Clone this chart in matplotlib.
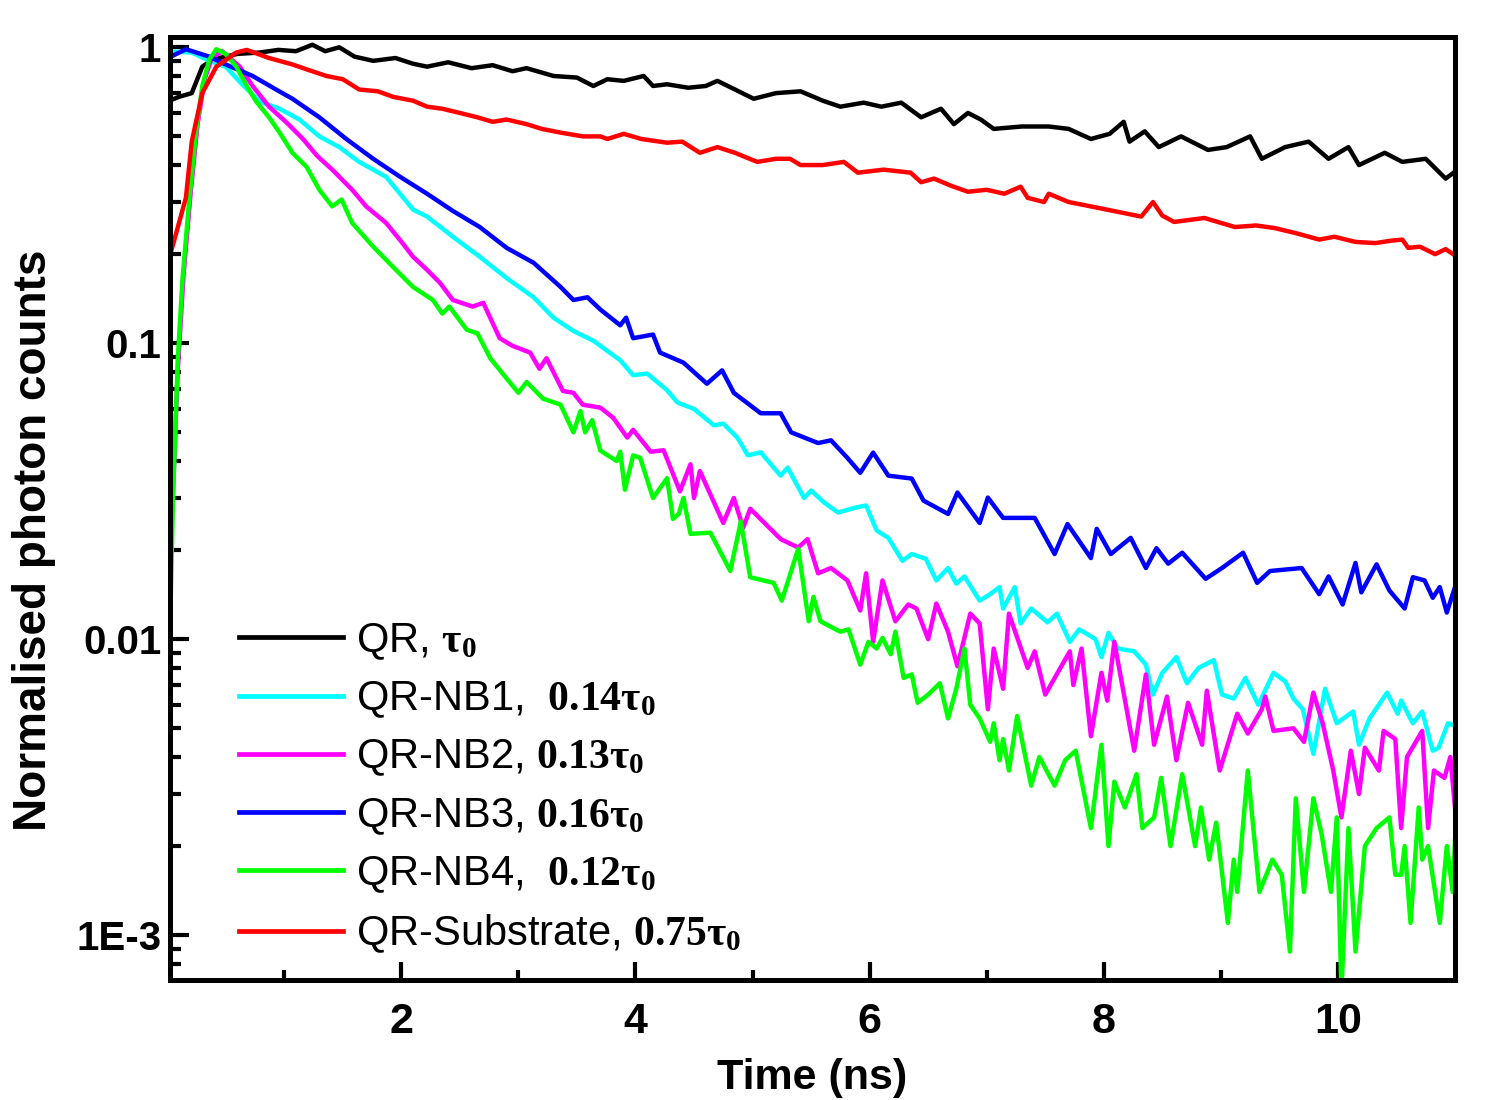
import matplotlib
matplotlib.use("Agg")
import matplotlib.pyplot as plt
from matplotlib.ticker import FixedLocator, LogLocator, NullFormatter

plt.rcParams['font.family'] = ['Liberation Sans', 'DejaVu Sans']
plt.rcParams['mathtext.fontset'] = 'custom'
plt.rcParams['mathtext.rm'] = 'Liberation Serif'
plt.rcParams['mathtext.bf'] = 'Liberation Serif:bold'
plt.rcParams['mathtext.it'] = 'Liberation Serif:italic'

# ---------------- data ----------------
t_qr = [0.02, 0.1, 0.21, 0.30, 0.39, 0.5, 0.6, 0.79, 0.95, 1.1, 1.24, 1.35, 1.47, 1.6, 1.76,
        1.95, 2.1, 2.22, 2.4, 2.6, 2.78, 2.95, 3.07, 3.3, 3.5, 3.64, 3.76, 3.9, 4.07, 4.15,
        4.27, 4.45, 4.6, 4.70, 4.85, 5.01, 5.2, 5.41, 5.6, 5.75, 5.95, 6.1, 6.27, 6.44, 6.61,
        6.72, 6.84, 6.95, 7.06, 7.3, 7.53, 7.7, 7.89, 8.05, 8.17, 8.22, 8.35, 8.47, 8.66, 8.89,
        9.05, 9.25, 9.35, 9.55, 9.75, 9.92, 10.09, 10.18, 10.40, 10.55, 10.75, 10.92, 11.0]
y_qr = [0.66, 0.68, 0.70, 0.86, 0.91, 0.93, 0.95, 0.96, 0.98, 0.97, 1.02, 0.97, 1.00, 0.93, 0.90,
        0.92, 0.88, 0.86, 0.89, 0.85, 0.87, 0.83, 0.85, 0.80, 0.79, 0.74, 0.78, 0.77, 0.80, 0.74,
        0.75, 0.73, 0.74, 0.77, 0.72, 0.67, 0.70, 0.71, 0.66, 0.63, 0.65, 0.63, 0.65, 0.58, 0.62,
        0.55, 0.60, 0.57, 0.53, 0.54, 0.54, 0.53, 0.49, 0.51, 0.56, 0.48, 0.52, 0.46, 0.50, 0.45,
        0.46, 0.50, 0.42, 0.46, 0.48, 0.42, 0.46, 0.40, 0.44, 0.41, 0.42, 0.36, 0.38]

t_nb1 = [0.02, 0.21, 0.36, 0.5, 0.64, 0.79, 0.96, 1.13, 1.30, 1.47, 1.64, 1.87, 2.1, 2.22, 2.44,
         2.67, 2.90, 3.13, 3.30, 3.47, 3.64, 3.87, 3.98, 4.10, 4.27, 4.36, 4.50, 4.67, 4.75, 4.87,
         4.96, 5.07, 5.24, 5.30, 5.44, 5.50, 5.61, 5.73, 5.89, 5.97, 6.06, 6.16, 6.28, 6.36, 6.48,
         6.57, 6.67, 6.74, 6.81, 6.94, 7.03, 7.11, 7.14, 7.24, 7.29, 7.38, 7.52, 7.60, 7.71, 7.79,
         7.93, 7.98, 8.04, 8.12, 8.26, 8.36, 8.42, 8.50, 8.62, 8.71, 8.81, 8.94, 9.01, 9.11, 9.21,
         9.32, 9.45, 9.55, 9.62, 9.70, 9.79, 9.89, 9.99, 10.13, 10.18, 10.27, 10.42, 10.51, 10.54,
         10.64, 10.72, 10.81, 10.86, 10.94, 11.0]
y_nb1 = [0.97, 0.96, 0.90, 0.86, 0.75, 0.656, 0.62, 0.57, 0.50, 0.46, 0.41, 0.365, 0.283, 0.268, 0.229,
         0.196, 0.166, 0.143, 0.122, 0.11, 0.102, 0.0876, 0.078, 0.079, 0.0694, 0.063, 0.06, 0.0528, 0.0535, 0.048,
         0.0418, 0.0428, 0.0357, 0.038, 0.030, 0.0318, 0.029, 0.0268, 0.0279, 0.0283, 0.0233, 0.022, 0.0184, 0.0194, 0.0187,
         0.0158, 0.0174, 0.0154, 0.0163, 0.0135, 0.0142, 0.015, 0.0127, 0.015, 0.0113, 0.0127, 0.0114, 0.0122, 0.0098, 0.0108,
         0.010, 0.0087, 0.0105, 0.0093, 0.0091, 0.0082, 0.0065, 0.0077, 0.0087, 0.0071, 0.008, 0.0085, 0.0065, 0.0063, 0.0074,
         0.006, 0.0077, 0.0072, 0.0063, 0.0058, 0.0041, 0.0068, 0.0052, 0.0057, 0.0044, 0.0054, 0.0066, 0.0056, 0.0062,
         0.0052, 0.0057, 0.0042, 0.0043, 0.0052, 0.0051]

t_nb2 = [0.03, 0.09, 0.14, 0.2, 0.26, 0.32, 0.38, 0.47, 0.62, 0.73, 0.87, 1.02, 1.16, 1.28, 1.41,
         1.58, 1.70, 1.87, 1.99, 2.1, 2.22, 2.33, 2.44, 2.61, 2.70, 2.84, 2.95, 3.10, 3.18, 3.24,
         3.38, 3.47, 3.55, 3.70, 3.81, 3.93, 3.98, 4.13, 4.24, 4.38, 4.47, 4.50, 4.55, 4.75, 4.84,
         4.92, 4.98, 5.24, 5.39, 5.47, 5.56, 5.67, 5.81, 5.92, 5.97, 6.03, 6.11, 6.22, 6.33, 6.40,
         6.50, 6.57, 6.67, 6.75, 6.86, 6.94, 7.01, 7.06, 7.14, 7.19, 7.35, 7.41, 7.50, 7.71, 7.74,
         7.81, 7.89, 7.98, 8.03, 8.09, 8.26, 8.36, 8.43, 8.54, 8.62, 8.72, 8.84, 8.88, 8.99, 9.14,
         9.23, 9.35, 9.38, 9.45, 9.62, 9.71, 9.79, 9.87, 9.96, 10.03, 10.11, 10.18, 10.23, 10.35,
         10.39, 10.49, 10.54, 10.59, 10.72, 10.77, 10.82, 10.91, 10.96, 11.0]
y_nb2 = [0.02, 0.08, 0.17, 0.32, 0.55, 0.78, 0.92, 0.97, 0.86, 0.74, 0.63, 0.557, 0.49, 0.43, 0.386,
         0.33, 0.29, 0.255, 0.223, 0.196, 0.177, 0.16, 0.14, 0.133, 0.137, 0.104, 0.098, 0.093, 0.082, 0.089,
         0.069, 0.068, 0.062, 0.0606, 0.056, 0.048, 0.051, 0.043, 0.0435, 0.0316, 0.039, 0.030, 0.037, 0.0247, 0.030,
         0.0238, 0.0276, 0.0218, 0.0204, 0.0218, 0.0167, 0.0174, 0.0158, 0.0125, 0.0167, 0.0098, 0.0158, 0.0115, 0.0131, 0.0127,
         0.010, 0.0132, 0.0106, 0.0081, 0.0122, 0.0113, 0.0058, 0.0093, 0.0068, 0.0122, 0.0080, 0.0091, 0.0065, 0.0091, 0.0070,
         0.0093, 0.0047, 0.0077, 0.0062, 0.0098, 0.0042, 0.0076, 0.0044, 0.0064, 0.0039, 0.0061, 0.0044, 0.0067, 0.0036, 0.0056,
         0.0048, 0.0058, 0.0064, 0.0049, 0.0050, 0.0045, 0.0066, 0.0052, 0.0036, 0.0025, 0.0042, 0.0030, 0.0043, 0.0036,
         0.0049, 0.0046, 0.0023, 0.0040, 0.0049, 0.0023, 0.0036, 0.0034, 0.0040, 0.0027]

t_nb3 = [0.02, 0.16, 0.36, 0.5, 0.73, 0.93, 1.07, 1.30, 1.53, 1.76, 1.99, 2.22, 2.44, 2.67, 2.90,
         3.13, 3.36, 3.47, 3.59, 3.70, 3.87, 3.92, 3.98, 4.15, 4.21, 4.41, 4.61, 4.74, 4.84, 5.07,
         5.24, 5.33, 5.56, 5.67, 5.81, 5.92, 6.03, 6.16, 6.36, 6.46, 6.67, 6.75, 6.94, 7.01, 7.14,
         7.41, 7.58, 7.69, 7.89, 7.94, 8.06, 8.23, 8.36, 8.45, 8.55, 8.67, 8.87, 9.01, 9.19, 9.31,
         9.42, 9.69, 9.84, 9.92, 10.04, 10.15, 10.2, 10.33, 10.44, 10.57, 10.64, 10.74, 10.81, 10.87,
         10.93, 11.0]
y_nb3 = [0.925, 0.985, 0.93, 0.875, 0.80, 0.72, 0.67, 0.58, 0.49, 0.42, 0.365, 0.32, 0.28, 0.247, 0.21,
         0.187, 0.155, 0.14, 0.143, 0.13, 0.115, 0.122, 0.104, 0.107, 0.093, 0.086, 0.073, 0.081, 0.068, 0.058,
         0.058, 0.050, 0.046, 0.047, 0.041, 0.0365, 0.0427, 0.0357, 0.0349, 0.0294, 0.0265, 0.0313, 0.0247, 0.0301, 0.0257,
         0.0257, 0.0194, 0.0245, 0.0188, 0.0236, 0.0194, 0.022, 0.0174, 0.0203, 0.018, 0.0196, 0.016, 0.0174, 0.0196, 0.0155,
         0.017, 0.0174, 0.0142, 0.0163, 0.0131, 0.0181, 0.0144, 0.0179, 0.0146, 0.0127, 0.0162, 0.0158, 0.0138, 0.015,
         0.0123, 0.015]

t_nb4 = [0.02, 0.05, 0.09, 0.13, 0.19, 0.25, 0.30, 0.36, 0.42, 0.50, 0.59, 0.68, 0.76, 0.87, 0.96,
         1.07, 1.19, 1.30, 1.41, 1.49, 1.58, 1.76, 1.93, 2.10, 2.27, 2.35, 2.41, 2.56, 2.65, 2.76,
         2.90, 3.00, 3.07, 3.21, 3.36, 3.47, 3.53, 3.57, 3.63, 3.70, 3.84, 3.87, 3.91, 3.98, 4.04,
         4.15, 4.27, 4.32, 4.37, 4.41, 4.47, 4.64, 4.81, 4.90, 4.98, 5.18, 5.25, 5.39, 5.48, 5.52,
         5.58, 5.69, 5.75, 5.82, 5.92, 5.99, 6.06, 6.11, 6.18, 6.22, 6.29, 6.36, 6.41, 6.50, 6.60,
         6.67, 6.74, 6.81, 6.86, 6.94, 7.03, 7.06, 7.11, 7.14, 7.19, 7.26, 7.38, 7.45, 7.58, 7.67,
         7.76, 7.89, 7.98, 8.04, 8.09, 8.18, 8.28, 8.33, 8.43, 8.49, 8.57, 8.67, 8.78, 8.83, 8.90,
         8.96, 9.06, 9.11, 9.14, 9.23, 9.33, 9.44, 9.52, 9.59, 9.64, 9.71, 9.79, 9.86, 9.94, 9.99,
         10.03, 10.09, 10.15, 10.23, 10.33, 10.44, 10.49, 10.54, 10.57, 10.62, 10.69, 10.72, 10.77,
         10.87, 10.93, 10.98, 11.0]
y_nb4 = [0.009, 0.03, 0.087, 0.163, 0.31, 0.53, 0.74, 0.91, 0.985, 0.95, 0.86, 0.74, 0.656, 0.58, 0.515,
         0.44, 0.395, 0.33, 0.29, 0.306, 0.255, 0.212, 0.181, 0.155, 0.14, 0.126, 0.133, 0.111, 0.108, 0.089,
         0.076, 0.068, 0.074, 0.065, 0.062, 0.05, 0.059, 0.05, 0.055, 0.0434, 0.040, 0.043, 0.032, 0.0418, 0.041,
         0.030, 0.035, 0.0255, 0.0265, 0.030, 0.0227, 0.0229, 0.017, 0.025, 0.0162, 0.0155, 0.0135, 0.0202, 0.0115, 0.0139,
         0.0115, 0.0109, 0.0106, 0.0108, 0.0082, 0.0098, 0.0093, 0.0101, 0.0089, 0.0106, 0.0074, 0.0076, 0.0061, 0.0065, 0.0071,
         0.0054, 0.0068, 0.0093, 0.006, 0.0054, 0.0045, 0.0052, 0.0039, 0.0046, 0.0036, 0.0055, 0.0032, 0.0040, 0.0032, 0.0039,
         0.0042, 0.0023, 0.0044, 0.0020, 0.0033, 0.0027, 0.0035, 0.0023, 0.0025, 0.0034, 0.0020, 0.0035, 0.0020, 0.0027, 0.0018,
         0.0024, 0.0011, 0.0018, 0.0014, 0.0036, 0.0014, 0.0018, 0.0016, 0.00088, 0.0029, 0.0014, 0.0029, 0.0022, 0.0014, 0.0025,
         0.00065, 0.0023, 0.00088, 0.0020, 0.0023, 0.0025, 0.0016, 0.0016, 0.0020, 0.0011, 0.0027, 0.0018, 0.0020,
         0.0011, 0.0020, 0.0014, 0.0021]

t_sub = [0.02, 0.16, 0.21, 0.30, 0.42, 0.59, 0.68, 0.87, 1.07, 1.2, 1.36, 1.5, 1.64, 1.8, 1.93,
         2.1, 2.22, 2.35, 2.5, 2.65, 2.78, 2.9, 3.07, 3.2, 3.36, 3.55, 3.70, 3.76, 3.9, 4.05,
         4.27, 4.4, 4.55, 4.70, 4.85, 5.04, 5.2, 5.32, 5.41, 5.6, 5.78, 5.90, 6.12, 6.35, 6.44,
         6.55, 6.70, 6.84, 7.0, 7.15, 7.29, 7.35, 7.49, 7.53, 7.7, 7.89, 8.12, 8.32, 8.42, 8.5,
         8.60, 8.86, 9.12, 9.3, 9.46, 9.65, 9.84, 9.97, 10.15, 10.32, 10.45, 10.55, 10.6, 10.7,
         10.83, 10.92, 11.0]
y_sub = [0.195, 0.31, 0.48, 0.70, 0.86, 0.96, 0.98, 0.92, 0.875, 0.84, 0.80, 0.78, 0.72, 0.71, 0.68,
         0.66, 0.63, 0.62, 0.60, 0.58, 0.56, 0.57, 0.55, 0.53, 0.515, 0.50, 0.50, 0.49, 0.51, 0.49,
         0.476, 0.48, 0.44, 0.46, 0.44, 0.41, 0.42, 0.42, 0.40, 0.40, 0.41, 0.377, 0.386, 0.377, 0.35,
         0.36, 0.34, 0.325, 0.33, 0.32, 0.338, 0.31, 0.30, 0.32, 0.30, 0.29, 0.278, 0.268, 0.30, 0.27,
         0.257, 0.265, 0.247, 0.25, 0.245, 0.235, 0.224, 0.229, 0.22, 0.218, 0.222, 0.224, 0.21, 0.212,
         0.20, 0.208, 0.198]

labels = [r"QR, $\mathbf{\tau_0}$",
          r"QR-NB1,  $\mathbf{0.14\tau_0}$",
          r"QR-NB2, $\mathbf{0.13\tau_0}$",
          r"QR-NB3, $\mathbf{0.16\tau_0}$",
          r"QR-NB4,  $\mathbf{0.12\tau_0}$",
          r"QR-Substrate, $\mathbf{0.75\tau_0}$"]
colors = ["#000000", "#00FFFF", "#FF00FF", "#0000FF", "#00FF00", "#FF0000"]

x_ticks = [2, 4, 6, 8, 10]
x_minor = [1, 3, 5, 7, 9]
y_ticks = [1, 0.1, 0.01, 0.001]
y_ticklabels = ["1", "0.1", "0.01", "1E-3"]

# ---------------- figure ----------------
fig = plt.figure(figsize=(15, 11), dpi=100)
ax = fig.add_axes([0.113, 0.109, 0.857, 0.857])

series = [(t_qr, y_qr), (t_nb1, y_nb1), (t_nb2, y_nb2), (t_nb3, y_nb3), (t_nb4, y_nb4), (t_sub, y_sub)]
for (t, y), c, lab in zip(series, colors, labels):
    ax.plot(t, y, color=c, lw=3.2, label=lab)

ax.set_yscale('log')
ax.set_xlim(0.02, 11.0)
ax.set_ylim(7.05e-4, 1.08)

ax.set_xticks(x_ticks)
ax.set_xticklabels([str(v) for v in x_ticks])
ax.xaxis.set_minor_locator(FixedLocator(x_minor))
ax.set_yticks(y_ticks)
ax.set_yticklabels(y_ticklabels)
ax.yaxis.set_minor_locator(LogLocator(base=10, subs=[2, 3, 4, 5, 6, 7, 8, 9], numticks=20))
ax.yaxis.set_minor_formatter(NullFormatter())

for s in ax.spines.values():
    s.set_linewidth(3.6)

ax.tick_params(axis='both', which='both', direction='in', top=False, right=False, width=3.0)
ax.tick_params(axis='y', which='major', length=14, pad=6, labelsize=29)
ax.tick_params(axis='y', which='minor', length=8)
ax.tick_params(axis='x', which='major', length=13, pad=16, labelsize=31)
ax.tick_params(axis='x', which='minor', length=7)
for lbl in ax.get_xticklabels() + ax.get_yticklabels():
    lbl.set_fontweight('bold')

ax.set_xlabel("Time (ns)", fontsize=31, fontweight='bold', labelpad=11)
ax.set_ylabel("Normalised photon counts", fontsize=33, fontweight='bold')
ax.yaxis.set_label_coords(-0.088, 0.467)

leg = ax.legend(loc='upper left', bbox_to_anchor=(0.054, 0.381), frameon=False,
                fontsize=30, handlelength=2.5, handletextpad=0.3, labelspacing=0.42,
                borderpad=0, borderaxespad=0)
for line in leg.get_lines():
    line.set_linewidth(3.4)

fig.savefig("out.png", dpi=100)
